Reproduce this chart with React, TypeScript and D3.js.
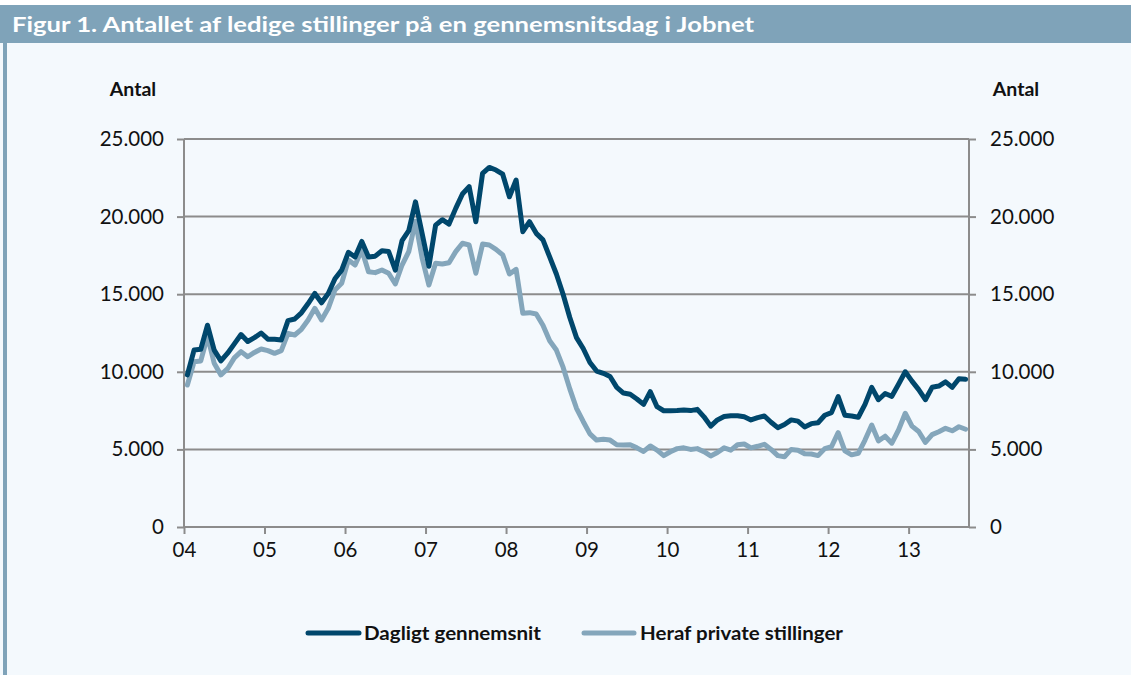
import React from "react";
import * as d3 from "d3";

// Monthly values, Jan 2004 .. Sep 2013
const dagligt = [
  9800, 11400, 11450, 13000, 11400, 10700, 11200, 11800, 12400, 11950, 12200, 12500,
  12100, 12100, 12050, 13300, 13400, 13800, 14400, 15050, 14450, 15050, 16000, 16550,
  17700, 17400, 18400, 17400, 17450, 17800, 17750, 16550, 18450, 19100, 20950, 18900,
  16800, 19450, 19800, 19520, 20530, 21460, 21930, 19670, 22790, 23170, 23000, 22730,
  21280, 22360, 19030, 19670, 18920, 18500, 17400, 16300, 15000, 13500, 12200, 11500,
  10600, 10050, 9900, 9700, 9000, 8630, 8550, 8250, 7900, 8720, 7750, 7490,
  7490, 7500, 7540, 7500, 7580, 7100, 6500, 6900, 7120, 7170, 7170, 7100,
  6900, 7050, 7150, 6750, 6400, 6600, 6900, 6820, 6450, 6660, 6720, 7200,
  7370, 8400, 7200, 7150, 7070, 7900, 9000, 8200, 8600, 8420, 9200, 10000,
  9400, 8850, 8200, 9000, 9080, 9350, 9000, 9550, 9520,
];
const privat = [
  9150, 10650, 10700, 12300, 10550, 9800, 10200, 10900, 11300, 10970, 11250, 11470,
  11360, 11190, 11360, 12480, 12370, 12740, 13340, 14090, 13340, 14090, 15270, 15700,
  17200, 16880, 17850, 16450, 16390, 16560, 16350, 15660, 16880, 17740, 19700, 17300,
  15590, 17000, 16950, 17030, 17740, 18280, 18170, 16350, 18230, 18170, 17890, 17530,
  16300, 16600, 13770, 13810, 13720, 13000, 12000, 11400, 10300, 8900, 7650, 6800,
  6000, 5600, 5650, 5600, 5300, 5280, 5300, 5100, 4870, 5220, 4950, 4600,
  4850, 5050, 5100, 5000, 5050, 4850, 4580, 4800, 5100, 4950, 5300, 5350,
  5100, 5200, 5330, 5000, 4600, 4530, 5000, 4950, 4720, 4700, 4600, 5050,
  5170, 6080, 4900, 4650, 4750, 5600, 6570, 5550, 5850, 5400, 6250, 7330,
  6500, 6150, 5450, 5950, 6140, 6360, 6200, 6460, 6300,
];
const yearLabels = ["04", "05", "06", "07", "08", "09", "10", "11", "12", "13"];
const yTicks = [0, 5000, 10000, 15000, 20000, 25000];
const seriesNames = ["Dagligt gennemsnit", "Heraf private stillinger"];
const seriesColors = ["#00476c", "#84a6bb"];

const fmt = (v: number) => (v === 0 ? "0" : d3.format(",")(v).replace(/,/g, "."));

const App = () => {
  const ref = React.useRef<SVGSVGElement>(null);

  React.useEffect(() => {
    const width = 1131;
    const height = 675;
    const left = 184, right = 969, top = 139, bottom = 527;
    const font = "Lato, 'Open Sans', sans-serif";

    const svg = d3.select(ref.current);
    svg.selectAll("*").remove();

    // frame
    svg.append("rect").attr("width", width).attr("height", height).attr("fill", "#ffffff");
    svg.append("rect").attr("x", 0).attr("y", 5).attr("width", width).attr("height", height - 5).attr("fill", "#f4f9fd");
    svg.append("rect").attr("x", 0).attr("y", 5).attr("width", width).attr("height", 38).attr("fill", "#7fa3b9");
    svg.append("rect").attr("x", 3).attr("y", 43).attr("width", 4).attr("height", height - 43).attr("fill", "#7fa3b9");
    svg.append("text")
      .attr("x", 12).attr("y", 32)
      .attr("fill", "#ffffff")
      .attr("font-family", font)
      .attr("font-weight", "bold")
      .attr("font-size", 21)
      .attr("textLength", 742)
      .attr("lengthAdjust", "spacingAndGlyphs")
      .text("Figur 1. Antallet af ledige stillinger på en gennemsnitsdag i Jobnet");

    const n = dagligt.length;
    const x = d3.scaleLinear().domain([0, n]).range([left, right]);
    const y = d3.scaleLinear().domain([0, 25000]).range([bottom, top]);

    const grey = "#8c8c8c";

    // grid
    svg.append("g")
      .selectAll("line")
      .data(yTicks)
      .join("line")
      .attr("x1", left).attr("x2", right)
      .attr("y1", d => y(d)).attr("y2", d => y(d))
      .attr("stroke", grey).attr("stroke-width", 2);

    // axes
    const leftAxis = svg.append("g")
      .attr("transform", `translate(${left},0)`)
      .call(d3.axisLeft(y).tickValues(yTicks).tickFormat(d => fmt(+d)).tickSize(7).tickPadding(13));
    const rightAxis = svg.append("g")
      .attr("transform", `translate(${right},0)`)
      .call(d3.axisRight(y).tickValues(yTicks).tickFormat(d => fmt(+d)).tickSize(7).tickPadding(14));
    const xAxis = svg.append("g")
      .attr("transform", `translate(0,${bottom})`)
      .call(d3.axisBottom(x).tickValues(yearLabels.map((_, i) => i * 12)).tickFormat((_, i) => yearLabels[i]).tickSize(7).tickPadding(8));

    [leftAxis, rightAxis, xAxis].forEach(g => {
      g.select(".domain").attr("stroke", grey).attr("stroke-width", 2);
      g.selectAll(".tick line").attr("stroke", grey).attr("stroke-width", 2);
      g.selectAll(".tick text")
        .attr("fill", "#111")
        .attr("font-family", font)
        .attr("font-size", 20.5);
    });
    leftAxis.select(".domain").attr("d", `M0,${bottom}V${top}`);
    rightAxis.select(".domain").attr("d", `M0,${bottom}V${top}`);
    xAxis.select(".domain").attr("d", `M${left},0H${right}`);

    // axis titles
    [[133, "Antal"], [1016, "Antal"]].forEach(([cx, t]) => {
      svg.append("text")
        .attr("x", cx as number).attr("y", 96)
        .attr("text-anchor", "middle")
        .attr("font-family", font)
        .attr("font-weight", "bold")
        .attr("font-size", 19.5)
        .attr("fill", "#111")
        .text(t as string);
    });

    // lines
    const line = d3.line<number>()
      .x((_, i) => x(i + 0.5))
      .y(d => y(d));

    svg.append("g")
      .selectAll("path")
      .data([privat, dagligt])
      .join("path")
      .attr("d", d => line(d))
      .attr("fill", "none")
      .attr("stroke", (_, i) => seriesColors[1 - i])
      .attr("stroke-width", 5)
      .attr("stroke-linejoin", "round")
      .attr("stroke-linecap", "round");

    // legend
    const legend = [
      { x0: 308, x1: 359, tx: 364, w: 177 },
      { x0: 584, x1: 634, tx: 640, w: 203 },
    ];
    const lg = svg.append("g");
    legend.forEach((l, i) => {
      lg.append("line")
        .attr("x1", l.x0).attr("x2", l.x1)
        .attr("y1", 633).attr("y2", 633)
        .attr("stroke", seriesColors[i])
        .attr("stroke-width", 5)
        .attr("stroke-linecap", "round");
      lg.append("text")
        .attr("x", l.tx).attr("y", 640)
        .attr("font-family", font)
        .attr("font-weight", "bold")
        .attr("font-size", 19)
        .attr("fill", "#111")
        .attr("textLength", l.w)
        .attr("lengthAdjust", "spacingAndGlyphs")
        .text(seriesNames[i]);
    });
  }, []);

  return (
    <svg
      ref={ref}
      width={1131}
      height={675}
      style={{ position: "absolute", left: 0, top: 0 }}
    />
  );
};

export default App;
